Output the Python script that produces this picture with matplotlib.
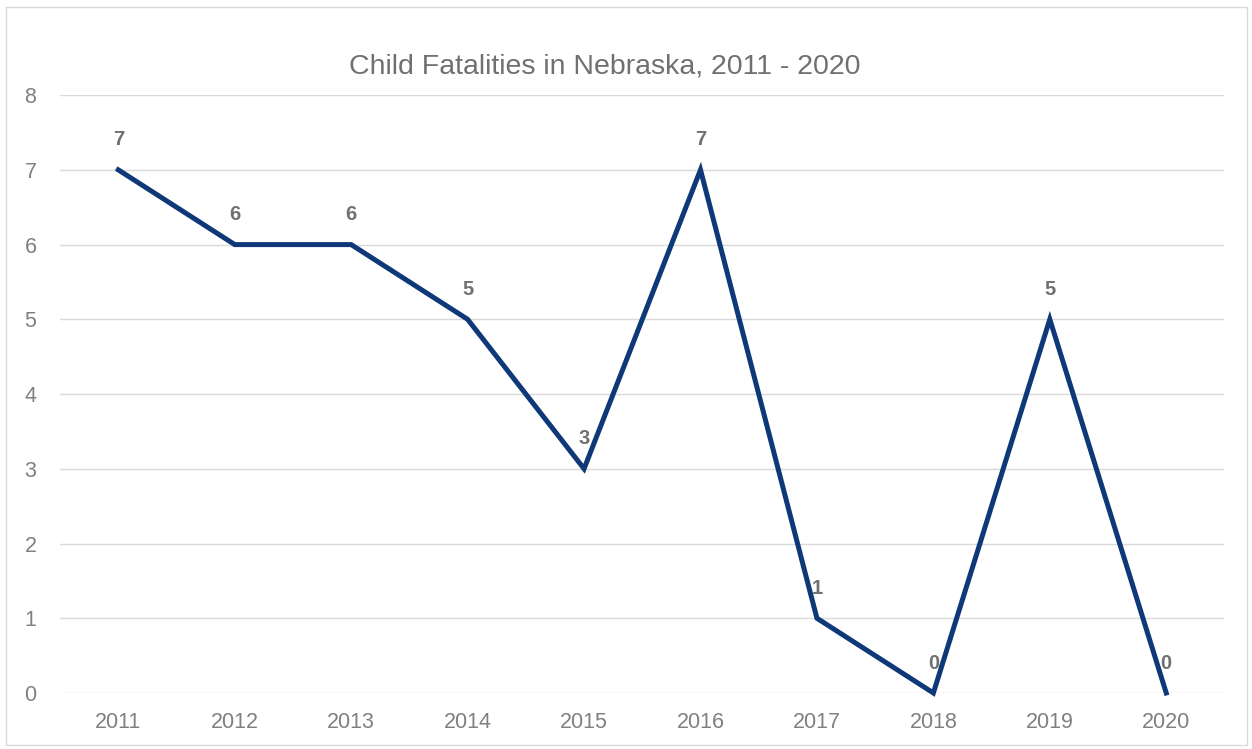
import matplotlib.pyplot as plt
from matplotlib.patches import Rectangle

plt.rcParams['font.family'] = ['Liberation Sans', 'DejaVu Sans']

years = ['2011', '2012', '2013', '2014', '2015', '2016', '2017', '2018', '2019', '2020']
fatalities = [7, 6, 6, 5, 3, 7, 1, 0, 5, 0]

fig = plt.figure(figsize=(12.52, 7.49), dpi=100)
ax = fig.add_axes([0.048, 0.0748, 0.930, 0.7982])

x = range(len(years))
ax.plot(x, fatalities, color='#0E3878', lw=3.6, solid_joinstyle='miter', zorder=3, clip_on=False)

for xi, v in zip(x, fatalities):
    ax.annotate(str(v), (xi, v), xytext=(0, 21.5), textcoords='offset points',
                ha='center', va='center', fontsize=14.5, fontweight='bold', color='#707070')

ax.set_xlim(-0.5, len(years) - 0.5)
ax.set_ylim(0, 8)
ax.set_yticks(range(0, 9))
ax.set_xticks(list(x))
ax.set_xticklabels(years)
ax.grid(axis='y', color='#d9d9d9', lw=1)
ax.set_axisbelow(True)
for s in ax.spines.values():
    s.set_visible(False)
ax.tick_params(length=0, labelsize=15.5, colors='#808080', pad=13.5)
ax.tick_params(axis='y', pad=17)

fig.text(0.483, 0.911, 'Child Fatalities in Nebraska, 2011 - 2020', ha='center', va='center',
         fontsize=20.5, color='#707070')

fig.patches.append(Rectangle((0.005, 0.005), 0.991, 0.986, transform=fig.transFigure,
                             fill=False, edgecolor='#d9d9d9', lw=1))

fig.savefig('out.png', dpi=100)
